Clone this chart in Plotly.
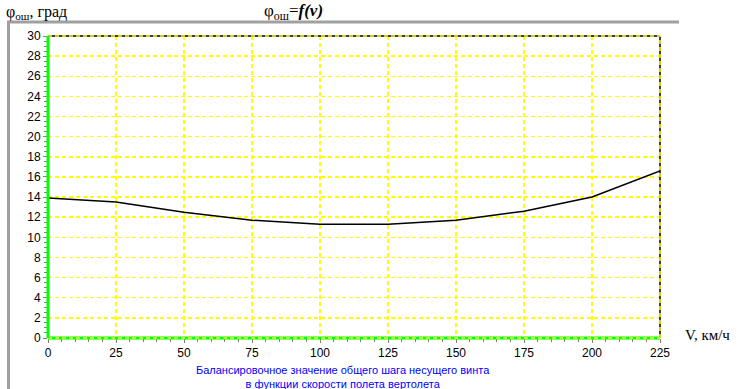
import plotly.graph_objects as go

speed = [0, 25, 50, 75, 100, 125, 150, 175, 200, 225]
phi = [13.9, 13.5, 12.5, 11.7, 11.3, 11.3, 11.7, 12.6, 14.0, 16.6]
x_ticks = [0, 25, 50, 75, 100, 125, 150, 175, 200, 225]
y_ticks = list(range(0, 31, 2))

W, H = 738, 389
L, R, T, B = 48, 660, 36, 338

def px(xp):
    return (xp - L) / (R - L)

def py(yp):
    return (B - yp) / (B - T)

fig = go.Figure()
fig.add_trace(go.Scatter(x=speed, y=phi, mode="lines",
                         line=dict(color="black", width=1.5), showlegend=False,
                         hoverinfo="skip"))

axis_common = dict(
    showline=False, zeroline=False, ticks="outside", ticklen=4, tickwidth=1,
    tickcolor="#808080", showgrid=True, gridcolor="#ffff00", gridwidth=1.5,
    griddash="4px,3px",
    tickfont=dict(family="Liberation Sans, Arial", size=12, color="black"),
)
fig.update_xaxes(range=[0, 225], tickvals=x_ticks, ticktext=[str(v) for v in x_ticks],
                 minor=dict(dtick=5, ticks="outside", ticklen=3, tickcolor="#808080", showgrid=False),
                 **axis_common)
fig.update_yaxes(range=[0, 30], tickvals=y_ticks, ticktext=[str(v) for v in y_ticks],
                 minor=dict(dtick=0.5, ticks="outside", ticklen=3, tickcolor="#808080", showgrid=False),
                 **axis_common)

shapes = []
# gray frame
shapes.append(dict(type="line", xref="paper", yref="paper", x0=px(7), x1=px(679), y0=py(22), y1=py(22),
                   line=dict(color="#a0a0a0", width=3), layer="above"))
shapes.append(dict(type="line", xref="paper", yref="paper", x0=px(8.5), x1=px(8.5), y0=py(21), y1=py(395),
                   line=dict(color="#a0a0a0", width=3), layer="above"))
# top border black/yellow
shapes.append(dict(type="line", xref="paper", yref="paper", x0=0, x1=1, y0=1, y1=1,
                   line=dict(color="black", width=1.5), layer="above"))
shapes.append(dict(type="line", xref="paper", yref="paper", x0=0, x1=1, y0=1, y1=1,
                   line=dict(color="#ffff00", width=1.5, dash="4px,3px"), layer="above"))
# right border black/yellow
shapes.append(dict(type="line", xref="paper", yref="paper", x0=1, x1=1, y0=0, y1=1,
                   line=dict(color="black", width=1.5), layer="above"))
shapes.append(dict(type="line", xref="paper", yref="paper", x0=1, x1=1, y0=0, y1=1,
                   line=dict(color="#ffff00", width=1.5, dash="4px,3px"), layer="above"))
# bottom green axis with yellow dashes
shapes.append(dict(type="line", xref="paper", yref="paper", x0=0, x1=1, y0=0, y1=0,
                   line=dict(color="#00ff00", width=3), layer="above"))
shapes.append(dict(type="line", xref="paper", yref="paper", x0=0, x1=1, y0=0, y1=0,
                   line=dict(color="#ffff00", width=1.5, dash="4px,3px"), layer="above"))
# left green axis
shapes.append(dict(type="line", xref="paper", yref="paper", x0=0, x1=0, y0=0, y1=1,
                   line=dict(color="#00ff00", width=3), layer="above"))

serif = "Liberation Serif, Times New Roman"
annotations = [
    dict(text="φ<sub>ош</sub>, град", xref="paper", yref="paper", x=px(4), y=py(12),
         xanchor="left", yanchor="middle", showarrow=False,
         font=dict(family=serif, size=16, color="black")),
    dict(text="φ<sub>ош</sub>=<b><i>f(v)</i></b>", xref="paper", yref="paper", x=px(262), y=py(12),
         xanchor="left", yanchor="middle", showarrow=False,
         font=dict(family=serif, size=17, color="black")),
    dict(text="V, км/ч", xref="paper", yref="paper", x=px(683), y=py(335),
         xanchor="left", yanchor="middle", showarrow=False,
         font=dict(family=serif, size=15, color="black")),
    dict(text="Балансировочное значение общего шага несущего винта<br>в функции скорости полета вертолета",
         xref="paper", yref="paper", x=px(343), y=py(377),
         xanchor="center", yanchor="middle", showarrow=False, align="center",
         font=dict(family="Liberation Sans, Arial", size=11, color="#0000ff")),
]

fig.update_layout(
    width=W, height=H, autosize=False,
    margin=dict(l=L, r=W - R, t=T, b=H - B, pad=0),
    plot_bgcolor="white", paper_bgcolor="white",
    shapes=shapes, annotations=annotations, showlegend=False,
)

fig.write_html("out.html", config={"displayModeBar": False, "staticPlot": True},
               post_script="document.body.style.margin='0';document.body.style.overflow='hidden';")
